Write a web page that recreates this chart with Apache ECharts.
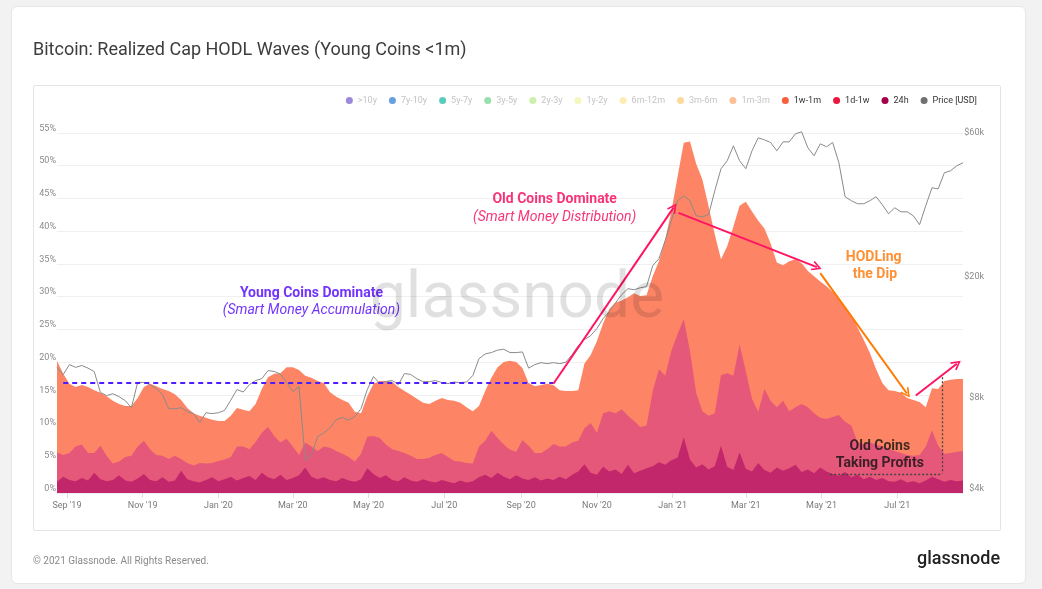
<!DOCTYPE html>
<html>
<head>
<meta charset="utf-8">
<script src="https://cdn.jsdelivr.net/npm/echarts@6/dist/echarts.min.js"></script>
<style>
html,body{margin:0;padding:0;background:#f2f2f2;}
#card{position:absolute;left:11px;top:6px;width:1013px;height:576px;background:#fff;border:1px solid #e6e6e6;border-radius:6px;}
#box{position:absolute;left:33px;top:85px;width:966px;height:444px;border:1px solid #e4e4e4;border-radius:2px;}
#chart{position:absolute;left:0;top:0;width:1042px;height:589px;}
</style>
</head>
<body>
<div id="card"></div>
<div id="box"></div>
<div id="chart"></div>
<script>
// ---------- data (5-day samples starting 2019-08-24) ----------
const startDate = '2019-08-24';
const stepDays = 5;

// share of realized cap, % (per band)
const share24h = [
  1.7, 2.5, 2.0, 1.8, 2.3, 1.9, 3.1, 2.1, 1.8, 2.0, 2.7, 1.9, 1.7,
  2.2, 2.9, 2.0, 1.8, 2.4, 1.7, 1.9, 3.4, 2.1, 1.8, 1.6, 2.0, 2.4, 1.8, 2.1, 2.5,
  1.9, 2.3, 2.6, 2.0, 3.1, 2.4, 2.1, 2.8, 2.0, 2.3, 2.7, 3.9, 2.5, 2.1, 2.4, 2.0, 1.8, 2.3, 1.9, 1.7, 2.1,
  3.8, 2.9, 2.3, 2.7, 2.0, 1.8, 2.4, 1.9, 1.7, 2.1, 1.8, 1.6, 2.0, 1.7, 1.5, 1.9, 1.6, 1.8, 2.4,
  2.8, 2.3, 3.1, 2.5, 2.1, 2.7, 2.2, 2.0, 2.4, 1.9, 2.2, 2.0, 2.5, 2.1, 2.8, 3.3,
  4.4, 3.1, 2.8, 4.0, 3.3, 3.6, 2.9, 4.3, 3.0, 3.4, 3.8,
  4.1, 4.7, 4.3, 5.0, 5.4, 8.5, 5.1, 3.9, 4.4, 3.6, 4.1, 7.2, 4.0, 3.5, 6.2,
  3.7, 3.3, 4.6, 3.5, 3.1, 3.9, 3.4, 3.8, 4.3, 3.2, 3.6, 3.0, 3.9, 3.3, 2.9,
  2.6, 3.2, 2.4, 2.8, 2.1, 2.5, 2.0, 2.3, 1.8, 1.7, 2.1, 1.6, 1.8, 1.5, 1.9, 2.5, 2.1, 1.7, 2.0, 1.8, 1.9
];
const share1d1w = [
  4.5, 3.3, 4.1, 5.3, 5.1, 4.2, 3.0, 5.1, 3.9, 2.5, 2.1, 3.6, 4.0,
  4.9, 5.1, 4.7, 4.0, 3.3, 3.5, 3.8, 1.8, 2.5, 2.4, 3.0, 2.5, 2.2, 3.1, 3.0, 3.0,
  5.2, 4.8, 4.1, 5.8, 6.1, 7.7, 6.6, 4.9, 6.3, 4.8, 3.1, 3.8, 4.6, 4.3, 4.7, 4.9, 4.6, 3.7, 3.6, 3.1, 3.9,
  4.8, 5.8, 6.1, 4.7, 4.7, 4.6, 3.7, 3.8, 3.5, 3.1, 3.6, 4.2, 4.1, 3.8, 3.4, 2.9, 3.0, 2.7, 4.7,
  5.2, 7.2, 5.3, 4.9, 4.5, 3.6, 5.9, 5.2, 3.7, 4.2, 4.5, 5.5, 4.6, 5.0, 4.9, 4.7,
  5.5, 7.6, 6.4, 8.2, 9.2, 8.6, 9.9, 7.5, 8.0, 6.7, 6.5,
  11.5, 14.2, 13.6, 16.7, 18.9, 18.1, 16.6, 11.4, 8.1, 8.2, 8.1, 10.8, 14.3, 14.4, 16.5,
  14.9, 11.1, 7.8, 12.4, 11.0, 9.2, 10.7, 8.7, 8.8, 10.4, 9.5, 9.2, 7.6, 8.0, 8.7,
  9.3, 7.7, 7.9, 5.0, 5.3, 5.2, 5.4, 4.8, 4.9, 4.7, 4.0, 4.2, 3.9, 4.3, 5.2, 7.1, 5.1, 4.3, 4.1, 4.5, 4.5
];
const share1w1m = [
  14.0, 12.4, 10.6, 9.1, 9.1, 10.1, 9.6, 8.1, 9.1, 9.6, 8.8, 7.8, 7.6,
  7.4, 8.2, 10.0, 10.5, 10.2, 10.4, 9.4, 9.0, 8.4, 8.0, 7.2, 7.0, 6.6, 6.1, 5.9, 6.3,
  5.9, 5.6, 5.8, 5.8, 6.7, 7.6, 9.5, 10.6, 10.9, 12.1, 13.0, 10.2, 10.5, 10.7, 9.7, 8.5, 8.3, 8.2, 8.3, 7.6, 6.2,
  6.2, 8.0, 8.7, 9.7, 10.3, 9.8, 9.5, 9.3, 9.2, 8.6, 8.2, 8.3, 8.4, 8.7, 9.2, 9.0, 8.5, 8.0, 6.2,
  7.6, 8.1, 10.8, 12.6, 13.6, 13.7, 11.0, 9.6, 10.2, 10.4, 10.0, 9.0, 8.6, 8.5, 7.9, 7.7,
  9.9, 10.4, 14.0, 13.7, 15.6, 16.9, 16.6, 18.1, 19.5, 20.0, 19.9,
  17.5, 16.5, 20.8, 21.3, 24.0, 26.9, 32.0, 35.0, 35.4, 32.0, 27.3, 17.7, 19.4, 22.8, 21.2,
  25.9, 28.6, 29.2, 24.5, 24.0, 22.1, 20.7, 22.9, 22.6, 21.5, 20.8, 20.9, 20.8, 20.3, 19.1,
  17.9, 17.6, 16.9, 17.5, 16.0, 13.7, 11.5, 9.7, 9.0, 9.2, 9.2, 8.7, 8.5, 8.1, 6.0, 6.4, 8.7, 11.1, 11.2, 11.1, 11.0
];
// BTC price, USD
const priceUSD = [
  10410, 9860, 10630, 10410, 10560, 10350, 10080, 8600, 8400, 8520,
  8330, 8080, 7660, 9290, 9280, 9130, 8850, 8460, 7610, 7590,
  7660, 7440, 7320, 6840, 7370, 7320, 7370, 7500, 8110, 8790,
  8630, 9130, 9420, 9550, 10160, 10090, 9890, 9290, 8660, 9000,
  5140, 5340, 6150, 6320, 6570, 6990, 7110, 6960, 7160, 7610,
  8790, 9710, 9200, 9350, 9420, 9130, 9930, 9860, 9550, 9340,
  9340, 9420, 9270, 9200, 9310, 9270, 9310, 9780, 11120, 11530,
  11650, 11870, 11950, 11650, 11650, 11710, 10350, 10630, 10790, 10710,
  10790, 10710, 10830, 11470, 12280, 12860, 13260, 13990, 15090, 15910,
  17010, 18110, 18950, 18800, 19090, 19250, 22570, 23820, 27300, 31800,
  37020, 38450, 37020, 33020, 32780, 33270, 39930, 47210, 50190, 56240,
  50190, 47240, 54140, 59770, 58850, 57670, 54140, 57960, 57960, 61620,
  62540, 55420, 52130, 57100, 55830, 57670, 49430, 38170, 37020, 36180,
  36180, 37020, 38170, 35900, 33530, 35090, 34020, 34020, 33020, 30840,
  35640, 40860, 40520, 45810, 46500, 48320, 49430
];

const xTickDates = ['2019-09-01','2019-11-01','2020-01-01','2020-03-01','2020-05-01','2020-07-01',
                    '2020-09-01','2020-11-01','2021-01-01','2021-03-01','2021-05-01','2021-07-01'];
const priceTicks = [4000, 8000, 20000, 60000];
const legendNames = ['>10y','7y-10y','5y-7y','3y-5y','2y-3y','1y-2y','6m-12m','3m-6m','1m-3m','1w-1m','1d-1w','24h','Price [USD]'];
const legendDotColors = ['#8c72d4','#4a8fdc','#3cc3b3','#86d9a0','#c7ed9c','#f2f7b4','#fdeaa6','#fdd48a','#fdb583','#fa5f3b','#e8193c','#a4004a','#707070'];
const activeNames = ['1w-1m','1d-1w','24h','Price [USD]'];

// annotations (date, %)
const dashedLine = [['2019-08-29', 16.85], ['2020-09-27', 16.85]];
const arrows = [
  {from: ['2020-09-27', 16.7], to: ['2021-01-01T19:00:00', 43.6], color: '#ff1464'},
  {from: ['2021-01-05T19:00:00', 42.8], to: ['2021-04-27T07:00:00', 34.5], color: '#ff1464'},
  {from: ['2021-04-30', 33.6], to: ['2021-07-08T19:00:00', 15.2], color: '#ff7a00'},
  {from: ['2021-07-16', 14.9], to: ['2021-08-18', 19.75], color: '#ff1464'}
];
const dottedBox = [
  [['2021-08-06', 17.7], ['2021-08-06', 2.94]],
  [['2021-05-08', 2.94], ['2021-08-06', 2.94]]
];
const notes = [
  {text: 'Young Coins Dominate', at: ['2020-03-16', 30.55], color: '#4f00ff', bold: true},
  {text: '(Smart Money Accumulation)', at: ['2020-03-16', 27.9], color: '#4f00ff', italic: true},
  {text: 'Old Coins Dominate', at: ['2020-09-28', 44.9], color: '#f50057', bold: true},
  {text: '(Smart Money Distribution)', at: ['2020-09-28', 42.1], color: '#f50057', italic: true},
  {text: 'HODLing', at: ['2021-06-12', 36.05], color: '#ff7400', bold: true},
  {text: 'the Dip', at: ['2021-06-13', 33.4], color: '#ff7400', bold: true},
  {text: 'Old Coins', at: ['2021-06-17', 7.1], color: '#111111', bold: true},
  {text: 'Taking Profits', at: ['2021-06-17', 4.46], color: '#111111', bold: true}
];

// ---------- build ----------
const DAY = 86400000;
const d = s => Date.parse(s.length === 10 ? s + 'T00:00:00Z' : s + 'Z');
const t0 = d(startDate);
const dates = share24h.map((_, i) => t0 + i * stepDays * DAY);
const pair = arr => arr.map((v, i) => [dates[i], v]);
const pt = p => [d(p[0]), p[1]];
const MONTHS = ['Jan','Feb','Mar','Apr','May','Jun','Jul','Aug','Sep','Oct','Nov','Dec'];
const FONT = 'Roboto, "Noto Sans", sans-serif';

// stacked band tops (the stack is drawn as layered areas, back to front)
const top24h = share24h.map(v => v);
const top1d1w = share24h.map((v, i) => +(v + share1d1w[i]).toFixed(2));
const top1w1m = share24h.map((v, i) => +(v + share1d1w[i] + share1w1m[i]).toFixed(2));

const arrowPath = 'path://M0,10 L6,0 L12,10 L10.3,11 L6,3.6 L1.7,11 Z';

const legendData = legendNames.map((n, i) => {
  const active = activeNames.indexOf(n) >= 0;
  return {
    name: n, icon: 'circle',
    itemStyle: {color: legendDotColors[i], opacity: active ? 1 : 0.85},
    textStyle: {color: active ? '#333' : '#c4c4c4'}
  };
});

const inactiveSeries = legendNames.filter(n => activeNames.indexOf(n) < 0).map((n) => ({
  name: n, type: 'line', data: [], showSymbol: false,
  itemStyle: {color: legendDotColors[legendNames.indexOf(n)]}
}));

const areaSeries = (name, arr, fill, dot, z) => ({
  name, type: 'line', data: pair(arr),
  symbol: 'none', showSymbol: false, smooth: false,
  lineStyle: {width: 0, color: fill},
  itemStyle: {color: dot},
  areaStyle: {color: fill, opacity: 1, origin: 'start'},
  z
});

const xTicks = xTickDates.map(d);

const chart = echarts.init(document.getElementById('chart'), null, {renderer: 'canvas'});
chart.setOption({
  animation: false,
  backgroundColor: 'transparent',
  textStyle: {fontFamily: FONT},
  title: {
    text: 'Bitcoin: Realized Cap HODL Waves (Young Coins <1m)',
    left: 28, top: 36,
    textStyle: {fontSize: 18, fontWeight: 'normal', color: '#3d3d3d', fontFamily: FONT}
  },
  legend: {
    data: legendData, right: 60, top: 91,
    itemWidth: 7, itemHeight: 7, itemGap: 12,
    textStyle: {fontSize: 9, fontFamily: FONT},
    selectedMode: false
  },
  grid: {left: 57, right: 79, top: 133, bottom: 96, containLabel: false},
  xAxis: {
    type: 'value',
    min: dates[0], max: dates[dates.length - 1],
    axisLine: {show: true, lineStyle: {color: '#ececec'}},
    axisTick: {show: true, length: 5, lineStyle: {color: '#dedede'}, customValues: xTicks},
    axisLabel: {
      customValues: xTicks,
      fontSize: 9, color: '#7a7a7a', margin: 8, fontFamily: FONT,
      formatter: v => { const dt = new Date(v); return MONTHS[dt.getUTCMonth()] + " '" + String(dt.getUTCFullYear()).slice(2); }
    },
    splitLine: {show: false}
  },
  yAxis: [{
    type: 'value', min: 0, max: 55, interval: 5,
    axisLine: {show: false}, axisTick: {show: false},
    axisLabel: {formatter: '{value}%', fontSize: 9, color: '#8a8a8a', margin: 1, verticalAlign: 'bottom', fontFamily: FONT},
    splitLine: {lineStyle: {color: '#f0f0f0', width: 1}}
  }, {
    type: 'log', logBase: 10, min: 4000, max: 62000, position: 'right',
    axisLine: {show: false}, axisTick: {show: false},
    axisLabel: {
      customValues: priceTicks,
      formatter: v => '$' + Math.round(v / 1000) + 'k',
      fontSize: 9, color: '#8a8a8a', align: 'right', margin: 21, verticalAlign: 'bottom', fontFamily: FONT
    },
    splitLine: {show: false}
  }],
  graphic: [
    {type: 'text', left: 33, top: 556, style: {text: '\u00a9 2021 Glassnode. All Rights Reserved.', fill: '#8a8a8a', font: '10px ' + FONT}},
    {type: 'text', left: 917, top: 550, style: {text: 'glassnode', fill: '#222', font: '500 18px ' + FONT}},
    {type: 'text', x: 517, y: 301, z: 100, silent: true,
     style: {text: 'glassnode', fill: 'rgba(0,0,0,0.12)', font: '64px ' + FONT, align: 'center', verticalAlign: 'middle'}}
  ],
  series: [
    ...inactiveSeries,
    areaSeries('1w-1m', top1w1m, '#fd8566', '#fa5f3b', 2),
    areaSeries('1d-1w', top1d1w, '#e65879', '#e8193c', 3),
    areaSeries('24h', top24h, '#c2266b', '#a4004a', 4),
    {
      name: 'Price [USD]', type: 'line', yAxisIndex: 1, data: pair(priceUSD),
      symbol: 'none', showSymbol: false, clip: false,
      lineStyle: {width: 1, color: '#8a8a8a'}, itemStyle: {color: '#707070'}, z: 5
    },
    {
      type: 'lines', coordinateSystem: 'cartesian2d', xAxisIndex: 0, yAxisIndex: 0, silent: true, z: 6,
      symbol: 'none',
      data: [
        {coords: dashedLine.map(pt), lineStyle: {color: '#4d1cff', width: 2, type: [5, 4], opacity: 1}},
        ...dottedBox.map(seg => ({coords: seg.map(pt), lineStyle: {color: '#444', width: 1.3, type: [2, 2], opacity: 1}}))
      ]
    },
    {
      type: 'lines', coordinateSystem: 'cartesian2d', xAxisIndex: 0, yAxisIndex: 0, silent: true, z: 7,
      symbol: ['none', arrowPath], symbolSize: [12, 10],
      data: arrows.map(a => ({coords: [pt(a.from), pt(a.to)], lineStyle: {color: a.color, width: 2, opacity: 1}}))
    },
    {
      type: 'scatter', xAxisIndex: 0, yAxisIndex: 0, silent: true, z: 8,
      symbolSize: 1, itemStyle: {color: 'rgba(0,0,0,0)'},
      data: notes.map(n => ({
        value: pt(n.at),
        label: {
          show: true, position: 'inside', formatter: n.text,
          color: n.color, fontSize: 14, fontFamily: FONT,
          fontWeight: n.bold ? 'bold' : 'normal',
          fontStyle: n.italic ? 'italic' : 'normal'
        }
      }))
    }
  ]
});
</script>
</body>
</html>
